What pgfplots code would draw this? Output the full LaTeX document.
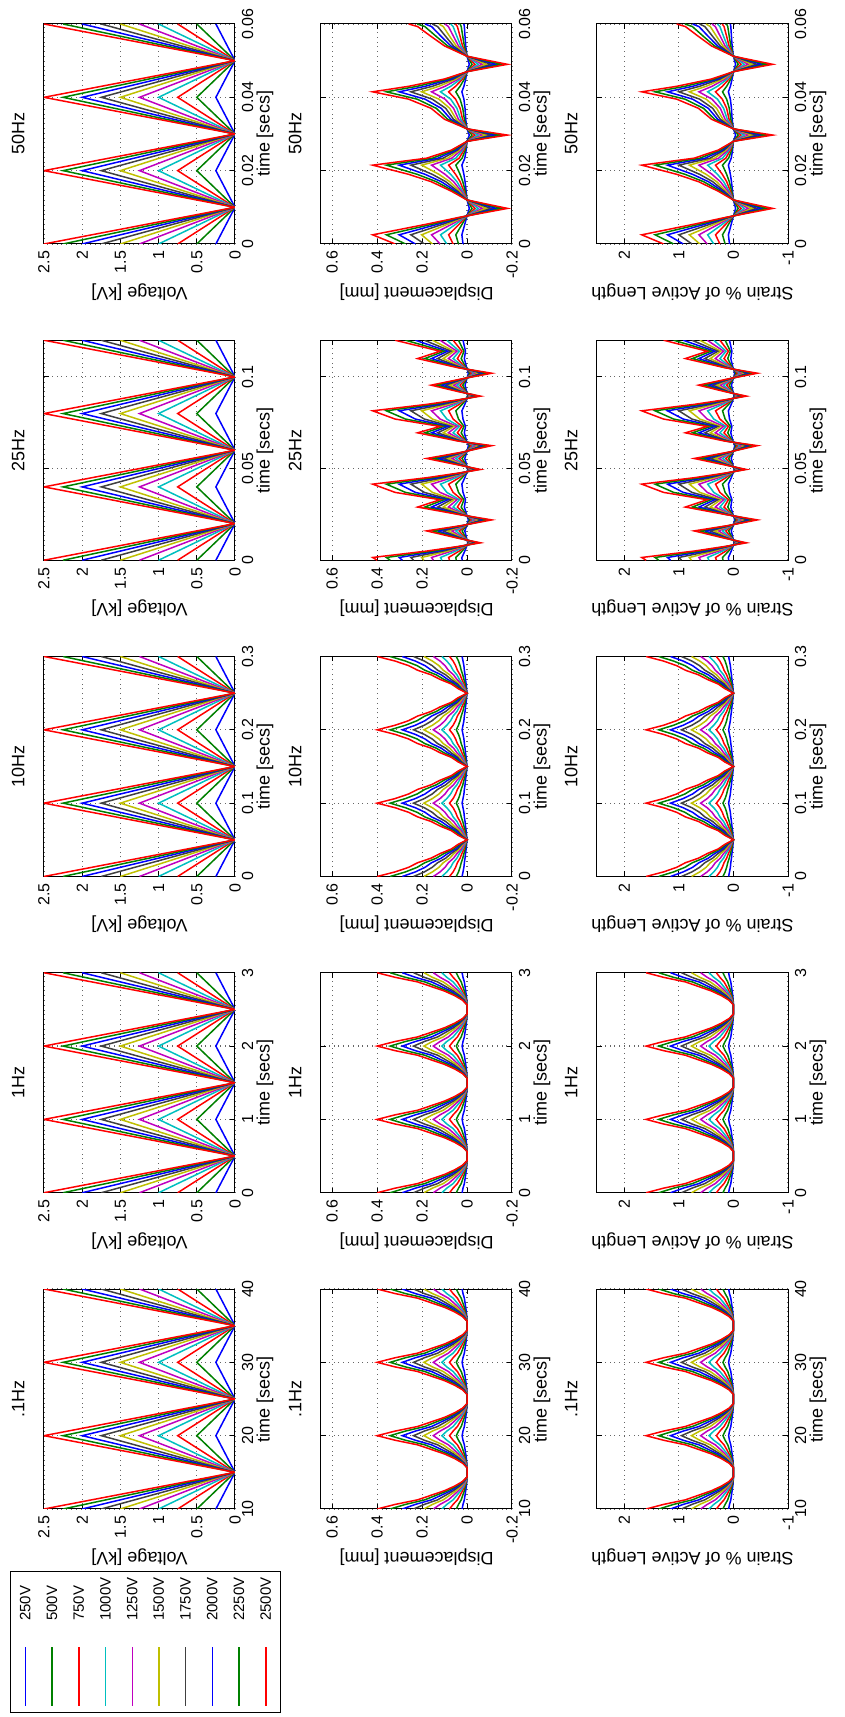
\documentclass[border=0pt]{standalone}
\usepackage{pgfplots}
\pgfplotsset{compat=1.18}
\usepackage{pgfplotstable}
\usepackage{fontspec}
\setmainfont{Liberation Sans}

\definecolor{m1}{rgb}{0,0,1}
\definecolor{m2}{rgb}{0,0.5,0}
\definecolor{m3}{rgb}{1,0,0}
\definecolor{m4}{rgb}{0,0.75,0.75}
\definecolor{m5}{rgb}{0.75,0,0.75}
\definecolor{m6}{rgb}{0.75,0.75,0}
\definecolor{m7}{rgb}{0.25,0.25,0.25}
\pgfplotscreateplotcyclelist{mat}{color=m1\\color=m2\\color=m3\\color=m4\\color=m5\\color=m6\\color=m7\\color=m1\\color=m2\\color=m3\\}

\pgfplotstableread{
ta tb tc td te v1 v2 v3 v4 v5 v6 v7 v8 v9 v10
10 0 0 0 0 0.25 0.5 0.75 1 1.25 1.5 1.75 2 2.25 2.5
15 0.5 0.05 0.02 0.01 0 0 0 0 0 0 0 0 0 0
20 1 0.1 0.04 0.02 0.25 0.5 0.75 1 1.25 1.5 1.75 2 2.25 2.5
25 1.5 0.15 0.06 0.03 0 0 0 0 0 0 0 0 0 0
30 2 0.2 0.08 0.04 0.25 0.5 0.75 1 1.25 1.5 1.75 2 2.25 2.5
35 2.5 0.25 0.1 0.05 0 0 0 0 0 0 0 0 0 0
40 3 0.3 0.12 0.06 0.25 0.5 0.75 1 1.25 1.5 1.75 2 2.25 2.5
}\voltT

\pgfplotstableread{
ta tb d1 d2 d3 d4 d5 d6 d7 d8 d9 d10 s1 s2 s3 s4 s5 s6 s7 s8 s9 s10
10 0 0.022 0.048 0.078 0.112 0.150 0.192 0.238 0.288 0.342 0.400 0.088 0.192 0.312 0.448 0.600 0.768 0.952 1.152 1.368 1.600
10.625 0.0625 0.018 0.038 0.062 0.090 0.120 0.154 0.190 0.230 0.274 0.320 0.072 0.152 0.248 0.360 0.480 0.616 0.760 0.920 1.096 1.280
11.25 0.125 0.012 0.026 0.043 0.062 0.083 0.106 0.131 0.158 0.188 0.220 0.048 0.104 0.172 0.248 0.332 0.424 0.524 0.632 0.752 0.880
11.875 0.1875 0.009 0.019 0.031 0.045 0.060 0.077 0.095 0.115 0.137 0.160 0.036 0.076 0.124 0.180 0.240 0.308 0.380 0.460 0.548 0.640
12.5 0.25 0.006 0.012 0.020 0.028 0.038 0.048 0.060 0.072 0.086 0.100 0.024 0.048 0.080 0.112 0.152 0.192 0.240 0.288 0.344 0.400
13.125 0.3125 0.003 0.007 0.011 0.015 0.021 0.026 0.033 0.040 0.047 0.055 0.012 0.028 0.044 0.060 0.084 0.104 0.132 0.160 0.188 0.220
13.75 0.375 0.001 0.002 0.004 0.006 0.008 0.010 0.012 0.014 0.017 0.020 0.004 0.008 0.016 0.024 0.032 0.040 0.048 0.056 0.068 0.080
14.375 0.4375 0 0 0 0 0 0 0 0 0 0 0 0 0 0 0 0 0 0 0 0
15.625 0.5625 0 0 0 0 0 0 0 0 0 0 0 0 0 0 0 0 0 0 0 0
16.25 0.625 0.001 0.002 0.004 0.006 0.008 0.010 0.012 0.014 0.017 0.020 0.004 0.008 0.016 0.024 0.032 0.040 0.048 0.056 0.068 0.080
16.875 0.6875 0.003 0.007 0.011 0.015 0.021 0.026 0.033 0.040 0.047 0.055 0.012 0.028 0.044 0.060 0.084 0.104 0.132 0.160 0.188 0.220
17.5 0.75 0.006 0.012 0.020 0.028 0.038 0.048 0.060 0.072 0.086 0.100 0.024 0.048 0.080 0.112 0.152 0.192 0.240 0.288 0.344 0.400
18.125 0.8125 0.009 0.019 0.031 0.045 0.060 0.077 0.095 0.115 0.137 0.160 0.036 0.076 0.124 0.180 0.240 0.308 0.380 0.460 0.548 0.640
18.75 0.875 0.012 0.026 0.043 0.062 0.083 0.106 0.131 0.158 0.188 0.220 0.048 0.104 0.172 0.248 0.332 0.424 0.524 0.632 0.752 0.880
19.375 0.9375 0.018 0.038 0.062 0.090 0.120 0.154 0.190 0.230 0.274 0.320 0.072 0.152 0.248 0.360 0.480 0.616 0.760 0.920 1.096 1.280
20 1 0.022 0.048 0.078 0.112 0.150 0.192 0.238 0.288 0.342 0.400 0.088 0.192 0.312 0.448 0.600 0.768 0.952 1.152 1.368 1.600
20.625 1.0625 0.018 0.038 0.062 0.090 0.120 0.154 0.190 0.230 0.274 0.320 0.072 0.152 0.248 0.360 0.480 0.616 0.760 0.920 1.096 1.280
21.25 1.125 0.012 0.026 0.043 0.062 0.083 0.106 0.131 0.158 0.188 0.220 0.048 0.104 0.172 0.248 0.332 0.424 0.524 0.632 0.752 0.880
21.875 1.1875 0.009 0.019 0.031 0.045 0.060 0.077 0.095 0.115 0.137 0.160 0.036 0.076 0.124 0.180 0.240 0.308 0.380 0.460 0.548 0.640
22.5 1.25 0.006 0.012 0.020 0.028 0.038 0.048 0.060 0.072 0.086 0.100 0.024 0.048 0.080 0.112 0.152 0.192 0.240 0.288 0.344 0.400
23.125 1.3125 0.003 0.007 0.011 0.015 0.021 0.026 0.033 0.040 0.047 0.055 0.012 0.028 0.044 0.060 0.084 0.104 0.132 0.160 0.188 0.220
23.75 1.375 0.001 0.002 0.004 0.006 0.008 0.010 0.012 0.014 0.017 0.020 0.004 0.008 0.016 0.024 0.032 0.040 0.048 0.056 0.068 0.080
24.375 1.4375 0 0 0 0 0 0 0 0 0 0 0 0 0 0 0 0 0 0 0 0
25.625 1.5625 0 0 0 0 0 0 0 0 0 0 0 0 0 0 0 0 0 0 0 0
26.25 1.625 0.001 0.002 0.004 0.006 0.008 0.010 0.012 0.014 0.017 0.020 0.004 0.008 0.016 0.024 0.032 0.040 0.048 0.056 0.068 0.080
26.875 1.6875 0.003 0.007 0.011 0.015 0.021 0.026 0.033 0.040 0.047 0.055 0.012 0.028 0.044 0.060 0.084 0.104 0.132 0.160 0.188 0.220
27.5 1.75 0.006 0.012 0.020 0.028 0.038 0.048 0.060 0.072 0.086 0.100 0.024 0.048 0.080 0.112 0.152 0.192 0.240 0.288 0.344 0.400
28.125 1.8125 0.009 0.019 0.031 0.045 0.060 0.077 0.095 0.115 0.137 0.160 0.036 0.076 0.124 0.180 0.240 0.308 0.380 0.460 0.548 0.640
28.75 1.875 0.012 0.026 0.043 0.062 0.083 0.106 0.131 0.158 0.188 0.220 0.048 0.104 0.172 0.248 0.332 0.424 0.524 0.632 0.752 0.880
29.375 1.9375 0.018 0.038 0.062 0.090 0.120 0.154 0.190 0.230 0.274 0.320 0.072 0.152 0.248 0.360 0.480 0.616 0.760 0.920 1.096 1.280
30 2 0.022 0.048 0.078 0.112 0.150 0.192 0.238 0.288 0.342 0.400 0.088 0.192 0.312 0.448 0.600 0.768 0.952 1.152 1.368 1.600
30.625 2.0625 0.018 0.038 0.062 0.090 0.120 0.154 0.190 0.230 0.274 0.320 0.072 0.152 0.248 0.360 0.480 0.616 0.760 0.920 1.096 1.280
31.25 2.125 0.012 0.026 0.043 0.062 0.083 0.106 0.131 0.158 0.188 0.220 0.048 0.104 0.172 0.248 0.332 0.424 0.524 0.632 0.752 0.880
31.875 2.1875 0.009 0.019 0.031 0.045 0.060 0.077 0.095 0.115 0.137 0.160 0.036 0.076 0.124 0.180 0.240 0.308 0.380 0.460 0.548 0.640
32.5 2.25 0.006 0.012 0.020 0.028 0.038 0.048 0.060 0.072 0.086 0.100 0.024 0.048 0.080 0.112 0.152 0.192 0.240 0.288 0.344 0.400
33.125 2.3125 0.003 0.007 0.011 0.015 0.021 0.026 0.033 0.040 0.047 0.055 0.012 0.028 0.044 0.060 0.084 0.104 0.132 0.160 0.188 0.220
33.75 2.375 0.001 0.002 0.004 0.006 0.008 0.010 0.012 0.014 0.017 0.020 0.004 0.008 0.016 0.024 0.032 0.040 0.048 0.056 0.068 0.080
34.375 2.4375 0 0 0 0 0 0 0 0 0 0 0 0 0 0 0 0 0 0 0 0
35.625 2.5625 0 0 0 0 0 0 0 0 0 0 0 0 0 0 0 0 0 0 0 0
36.25 2.625 0.001 0.002 0.004 0.006 0.008 0.010 0.012 0.014 0.017 0.020 0.004 0.008 0.016 0.024 0.032 0.040 0.048 0.056 0.068 0.080
36.875 2.6875 0.003 0.007 0.011 0.015 0.021 0.026 0.033 0.040 0.047 0.055 0.012 0.028 0.044 0.060 0.084 0.104 0.132 0.160 0.188 0.220
37.5 2.75 0.006 0.012 0.020 0.028 0.038 0.048 0.060 0.072 0.086 0.100 0.024 0.048 0.080 0.112 0.152 0.192 0.240 0.288 0.344 0.400
38.125 2.8125 0.009 0.019 0.031 0.045 0.060 0.077 0.095 0.115 0.137 0.160 0.036 0.076 0.124 0.180 0.240 0.308 0.380 0.460 0.548 0.640
38.75 2.875 0.012 0.026 0.043 0.062 0.083 0.106 0.131 0.158 0.188 0.220 0.048 0.104 0.172 0.248 0.332 0.424 0.524 0.632 0.752 0.880
39.375 2.9375 0.018 0.038 0.062 0.090 0.120 0.154 0.190 0.230 0.274 0.320 0.072 0.152 0.248 0.360 0.480 0.616 0.760 0.920 1.096 1.280
40 3 0.022 0.048 0.078 0.112 0.150 0.192 0.238 0.288 0.342 0.400 0.088 0.192 0.312 0.448 0.600 0.768 0.952 1.152 1.368 1.600
}\slowT

\pgfplotstableread{
t d1 d2 d3 d4 d5 d6 d7 d8 d9 d10 s1 s2 s3 s4 s5 s6 s7 s8 s9 s10
0 0.022 0.048 0.078 0.112 0.150 0.192 0.238 0.288 0.342 0.400 0.088 0.192 0.312 0.448 0.600 0.768 0.952 1.152 1.368 1.600
0.00625 0.018 0.038 0.062 0.090 0.120 0.154 0.190 0.230 0.274 0.320 0.072 0.152 0.248 0.360 0.480 0.616 0.760 0.920 1.096 1.280
0.0125 0.014 0.031 0.051 0.073 0.098 0.125 0.155 0.187 0.222 0.260 0.056 0.124 0.204 0.292 0.392 0.500 0.620 0.748 0.888 1.040
0.01875 0.012 0.026 0.043 0.062 0.083 0.106 0.131 0.158 0.188 0.220 0.048 0.104 0.172 0.248 0.332 0.424 0.524 0.632 0.752 0.880
0.025 0.009 0.019 0.031 0.045 0.060 0.077 0.095 0.115 0.137 0.160 0.036 0.076 0.124 0.180 0.240 0.308 0.380 0.460 0.548 0.640
0.03125 0.007 0.014 0.023 0.034 0.045 0.058 0.071 0.086 0.103 0.120 0.028 0.056 0.092 0.136 0.180 0.232 0.284 0.344 0.412 0.480
0.0375 0.004 0.008 0.014 0.020 0.026 0.034 0.042 0.050 0.060 0.070 0.016 0.032 0.056 0.080 0.104 0.136 0.168 0.200 0.240 0.280
0.04375 0.002 0.005 0.008 0.011 0.015 0.019 0.024 0.029 0.034 0.040 0.008 0.020 0.032 0.044 0.060 0.076 0.096 0.116 0.136 0.160
0.05 0 0 0 0 0 0 0 0 0 0 0 0 0 0 0 0 0 0 0 0
0.05625 0.002 0.005 0.008 0.011 0.015 0.019 0.024 0.029 0.034 0.040 0.008 0.020 0.032 0.044 0.060 0.076 0.096 0.116 0.136 0.160
0.0625 0.004 0.008 0.014 0.020 0.026 0.034 0.042 0.050 0.060 0.070 0.016 0.032 0.056 0.080 0.104 0.136 0.168 0.200 0.240 0.280
0.06875 0.007 0.014 0.023 0.034 0.045 0.058 0.071 0.086 0.103 0.120 0.028 0.056 0.092 0.136 0.180 0.232 0.284 0.344 0.412 0.480
0.075 0.009 0.019 0.031 0.045 0.060 0.077 0.095 0.115 0.137 0.160 0.036 0.076 0.124 0.180 0.240 0.308 0.380 0.460 0.548 0.640
0.08125 0.012 0.026 0.043 0.062 0.083 0.106 0.131 0.158 0.188 0.220 0.048 0.104 0.172 0.248 0.332 0.424 0.524 0.632 0.752 0.880
0.0875 0.014 0.031 0.051 0.073 0.098 0.125 0.155 0.187 0.222 0.260 0.056 0.124 0.204 0.292 0.392 0.500 0.620 0.748 0.888 1.040
0.09375 0.018 0.038 0.062 0.090 0.120 0.154 0.190 0.230 0.274 0.320 0.072 0.152 0.248 0.360 0.480 0.616 0.760 0.920 1.096 1.280
0.1 0.022 0.048 0.078 0.112 0.150 0.192 0.238 0.288 0.342 0.400 0.088 0.192 0.312 0.448 0.600 0.768 0.952 1.152 1.368 1.600
0.10625 0.018 0.038 0.062 0.090 0.120 0.154 0.190 0.230 0.274 0.320 0.072 0.152 0.248 0.360 0.480 0.616 0.760 0.920 1.096 1.280
0.1125 0.014 0.031 0.051 0.073 0.098 0.125 0.155 0.187 0.222 0.260 0.056 0.124 0.204 0.292 0.392 0.500 0.620 0.748 0.888 1.040
0.11875 0.012 0.026 0.043 0.062 0.083 0.106 0.131 0.158 0.188 0.220 0.048 0.104 0.172 0.248 0.332 0.424 0.524 0.632 0.752 0.880
0.125 0.009 0.019 0.031 0.045 0.060 0.077 0.095 0.115 0.137 0.160 0.036 0.076 0.124 0.180 0.240 0.308 0.380 0.460 0.548 0.640
0.13125 0.007 0.014 0.023 0.034 0.045 0.058 0.071 0.086 0.103 0.120 0.028 0.056 0.092 0.136 0.180 0.232 0.284 0.344 0.412 0.480
0.1375 0.004 0.008 0.014 0.020 0.026 0.034 0.042 0.050 0.060 0.070 0.016 0.032 0.056 0.080 0.104 0.136 0.168 0.200 0.240 0.280
0.14375 0.002 0.005 0.008 0.011 0.015 0.019 0.024 0.029 0.034 0.040 0.008 0.020 0.032 0.044 0.060 0.076 0.096 0.116 0.136 0.160
0.15 0 0 0 0 0 0 0 0 0 0 0 0 0 0 0 0 0 0 0 0
0.15625 0.002 0.005 0.008 0.011 0.015 0.019 0.024 0.029 0.034 0.040 0.008 0.020 0.032 0.044 0.060 0.076 0.096 0.116 0.136 0.160
0.1625 0.004 0.008 0.014 0.020 0.026 0.034 0.042 0.050 0.060 0.070 0.016 0.032 0.056 0.080 0.104 0.136 0.168 0.200 0.240 0.280
0.16875 0.007 0.014 0.023 0.034 0.045 0.058 0.071 0.086 0.103 0.120 0.028 0.056 0.092 0.136 0.180 0.232 0.284 0.344 0.412 0.480
0.175 0.009 0.019 0.031 0.045 0.060 0.077 0.095 0.115 0.137 0.160 0.036 0.076 0.124 0.180 0.240 0.308 0.380 0.460 0.548 0.640
0.18125 0.012 0.026 0.043 0.062 0.083 0.106 0.131 0.158 0.188 0.220 0.048 0.104 0.172 0.248 0.332 0.424 0.524 0.632 0.752 0.880
0.1875 0.014 0.031 0.051 0.073 0.098 0.125 0.155 0.187 0.222 0.260 0.056 0.124 0.204 0.292 0.392 0.500 0.620 0.748 0.888 1.040
0.19375 0.018 0.038 0.062 0.090 0.120 0.154 0.190 0.230 0.274 0.320 0.072 0.152 0.248 0.360 0.480 0.616 0.760 0.920 1.096 1.280
0.2 0.022 0.048 0.078 0.112 0.150 0.192 0.238 0.288 0.342 0.400 0.088 0.192 0.312 0.448 0.600 0.768 0.952 1.152 1.368 1.600
0.20625 0.018 0.038 0.062 0.090 0.120 0.154 0.190 0.230 0.274 0.320 0.072 0.152 0.248 0.360 0.480 0.616 0.760 0.920 1.096 1.280
0.2125 0.014 0.031 0.051 0.073 0.098 0.125 0.155 0.187 0.222 0.260 0.056 0.124 0.204 0.292 0.392 0.500 0.620 0.748 0.888 1.040
0.21875 0.012 0.026 0.043 0.062 0.083 0.106 0.131 0.158 0.188 0.220 0.048 0.104 0.172 0.248 0.332 0.424 0.524 0.632 0.752 0.880
0.225 0.009 0.019 0.031 0.045 0.060 0.077 0.095 0.115 0.137 0.160 0.036 0.076 0.124 0.180 0.240 0.308 0.380 0.460 0.548 0.640
0.23125 0.007 0.014 0.023 0.034 0.045 0.058 0.071 0.086 0.103 0.120 0.028 0.056 0.092 0.136 0.180 0.232 0.284 0.344 0.412 0.480
0.2375 0.004 0.008 0.014 0.020 0.026 0.034 0.042 0.050 0.060 0.070 0.016 0.032 0.056 0.080 0.104 0.136 0.168 0.200 0.240 0.280
0.24375 0.002 0.005 0.008 0.011 0.015 0.019 0.024 0.029 0.034 0.040 0.008 0.020 0.032 0.044 0.060 0.076 0.096 0.116 0.136 0.160
0.25 0 0 0 0 0 0 0 0 0 0 0 0 0 0 0 0 0 0 0 0
0.25625 0.002 0.005 0.008 0.011 0.015 0.019 0.024 0.029 0.034 0.040 0.008 0.020 0.032 0.044 0.060 0.076 0.096 0.116 0.136 0.160
0.2625 0.004 0.008 0.014 0.020 0.026 0.034 0.042 0.050 0.060 0.070 0.016 0.032 0.056 0.080 0.104 0.136 0.168 0.200 0.240 0.280
0.26875 0.007 0.014 0.023 0.034 0.045 0.058 0.071 0.086 0.103 0.120 0.028 0.056 0.092 0.136 0.180 0.232 0.284 0.344 0.412 0.480
0.275 0.009 0.019 0.031 0.045 0.060 0.077 0.095 0.115 0.137 0.160 0.036 0.076 0.124 0.180 0.240 0.308 0.380 0.460 0.548 0.640
0.28125 0.012 0.026 0.043 0.062 0.083 0.106 0.131 0.158 0.188 0.220 0.048 0.104 0.172 0.248 0.332 0.424 0.524 0.632 0.752 0.880
0.2875 0.014 0.031 0.051 0.073 0.098 0.125 0.155 0.187 0.222 0.260 0.056 0.124 0.204 0.292 0.392 0.500 0.620 0.748 0.888 1.040
0.29375 0.018 0.038 0.062 0.090 0.120 0.154 0.190 0.230 0.274 0.320 0.072 0.152 0.248 0.360 0.480 0.616 0.760 0.920 1.096 1.280
0.3 0.022 0.048 0.078 0.112 0.150 0.192 0.238 0.288 0.342 0.400 0.088 0.192 0.312 0.448 0.600 0.768 0.952 1.152 1.368 1.600
}\tenT

\pgfplotstableread{
t d1 d2 d3 d4 d5 d6 d7 d8 d9 d10 s1 s2 s3 s4 s5 s6 s7 s8 s9 s10
0 0.022 0.048 0.078 0.112 0.150 0.192 0.238 0.288 0.342 0.400 0.088 0.192 0.312 0.448 0.600 0.768 0.952 1.152 1.368 1.600
0.0015 0.023 0.050 0.082 0.118 0.158 0.202 0.250 0.302 0.359 0.420 0.092 0.200 0.328 0.472 0.632 0.808 1.000 1.208 1.436 1.680
0.005 0.010 0.022 0.035 0.050 0.068 0.086 0.107 0.130 0.154 0.180 0.040 0.088 0.140 0.200 0.272 0.344 0.428 0.520 0.616 0.720
0.0075 0.002 0.005 0.008 0.011 0.015 0.019 0.024 0.029 0.034 0.040 0.008 0.020 0.032 0.044 0.060 0.076 0.096 0.116 0.136 0.160
0.0095 -0.003 -0.007 -0.012 -0.017 -0.023 -0.029 -0.036 -0.043 -0.051 -0.060 -0.012 -0.028 -0.048 -0.068 -0.092 -0.116 -0.144 -0.172 -0.204 -0.240
0.012 0.002 0.005 0.008 0.011 0.015 0.019 0.024 0.029 0.034 0.040 0.008 0.020 0.032 0.044 0.060 0.076 0.096 0.116 0.136 0.160
0.016 0.010 0.022 0.035 0.050 0.068 0.086 0.107 0.130 0.154 0.180 0.040 0.088 0.140 0.200 0.272 0.344 0.428 0.520 0.616 0.720
0.019 0.001 0.002 0.004 0.006 0.008 0.010 0.012 0.014 0.017 0.020 0.004 0.008 0.016 0.024 0.032 0.040 0.048 0.056 0.068 0.080
0.022 -0.006 -0.013 -0.021 -0.031 -0.041 -0.053 -0.065 -0.079 -0.094 -0.110 -0.024 -0.052 -0.084 -0.124 -0.164 -0.212 -0.260 -0.316 -0.376 -0.440
0.025 0.002 0.005 0.008 0.011 0.015 0.019 0.024 0.029 0.034 0.040 0.008 0.020 0.032 0.044 0.060 0.076 0.096 0.116 0.136 0.160
0.029 0.012 0.026 0.043 0.062 0.083 0.106 0.131 0.158 0.188 0.220 0.048 0.104 0.172 0.248 0.332 0.424 0.524 0.632 0.752 0.880
0.033 0.007 0.014 0.023 0.034 0.045 0.058 0.071 0.086 0.103 0.120 0.028 0.056 0.092 0.136 0.180 0.232 0.284 0.344 0.412 0.480
0.037 0.018 0.038 0.062 0.090 0.120 0.154 0.190 0.230 0.274 0.320 0.072 0.152 0.248 0.360 0.480 0.616 0.760 0.920 1.096 1.280
0.0415 0.023 0.050 0.082 0.118 0.158 0.202 0.250 0.302 0.359 0.420 0.092 0.200 0.328 0.472 0.632 0.808 1.000 1.208 1.436 1.680
0.045 0.010 0.022 0.035 0.050 0.068 0.086 0.107 0.130 0.154 0.180 0.040 0.088 0.140 0.200 0.272 0.344 0.428 0.520 0.616 0.720
0.0475 0.002 0.005 0.008 0.011 0.015 0.019 0.024 0.029 0.034 0.040 0.008 0.020 0.032 0.044 0.060 0.076 0.096 0.116 0.136 0.160
0.0495 -0.003 -0.007 -0.012 -0.017 -0.023 -0.029 -0.036 -0.043 -0.051 -0.060 -0.012 -0.028 -0.048 -0.068 -0.092 -0.116 -0.144 -0.172 -0.204 -0.240
0.052 0.002 0.005 0.008 0.011 0.015 0.019 0.024 0.029 0.034 0.040 0.008 0.020 0.032 0.044 0.060 0.076 0.096 0.116 0.136 0.160
0.0555 0.010 0.022 0.035 0.050 0.068 0.086 0.107 0.130 0.154 0.180 0.040 0.088 0.140 0.200 0.272 0.344 0.428 0.520 0.616 0.720
0.059 0.001 0.002 0.004 0.006 0.008 0.010 0.012 0.014 0.017 0.020 0.004 0.008 0.016 0.024 0.032 0.040 0.048 0.056 0.068 0.080
0.0625 -0.006 -0.013 -0.021 -0.031 -0.041 -0.053 -0.065 -0.079 -0.094 -0.110 -0.024 -0.052 -0.084 -0.124 -0.164 -0.212 -0.260 -0.316 -0.376 -0.440
0.065 0.002 0.005 0.008 0.011 0.015 0.019 0.024 0.029 0.034 0.040 0.008 0.020 0.032 0.044 0.060 0.076 0.096 0.116 0.136 0.160
0.0695 0.012 0.026 0.043 0.062 0.083 0.106 0.131 0.158 0.188 0.220 0.048 0.104 0.172 0.248 0.332 0.424 0.524 0.632 0.752 0.880
0.073 0.007 0.014 0.023 0.034 0.045 0.058 0.071 0.086 0.103 0.120 0.028 0.056 0.092 0.136 0.180 0.232 0.284 0.344 0.412 0.480
0.077 0.018 0.038 0.062 0.090 0.120 0.154 0.190 0.230 0.274 0.320 0.072 0.152 0.248 0.360 0.480 0.616 0.760 0.920 1.096 1.280
0.0815 0.023 0.050 0.082 0.118 0.158 0.202 0.250 0.302 0.359 0.420 0.092 0.200 0.328 0.472 0.632 0.808 1.000 1.208 1.436 1.680
0.085 0.010 0.022 0.035 0.050 0.068 0.086 0.107 0.130 0.154 0.180 0.040 0.088 0.140 0.200 0.272 0.344 0.428 0.520 0.616 0.720
0.0875 0.002 0.005 0.008 0.011 0.015 0.019 0.024 0.029 0.034 0.040 0.008 0.020 0.032 0.044 0.060 0.076 0.096 0.116 0.136 0.160
0.0895 -0.003 -0.007 -0.012 -0.017 -0.023 -0.029 -0.036 -0.043 -0.051 -0.060 -0.012 -0.028 -0.048 -0.068 -0.092 -0.116 -0.144 -0.172 -0.204 -0.240
0.092 0.002 0.005 0.008 0.011 0.015 0.019 0.024 0.029 0.034 0.040 0.008 0.020 0.032 0.044 0.060 0.076 0.096 0.116 0.136 0.160
0.0955 0.009 0.019 0.031 0.045 0.060 0.077 0.095 0.115 0.137 0.160 0.036 0.076 0.124 0.180 0.240 0.308 0.380 0.460 0.548 0.640
0.099 0.001 0.002 0.004 0.006 0.008 0.010 0.012 0.014 0.017 0.020 0.004 0.008 0.016 0.024 0.032 0.040 0.048 0.056 0.068 0.080
0.102 -0.006 -0.013 -0.021 -0.031 -0.041 -0.053 -0.065 -0.079 -0.094 -0.110 -0.024 -0.052 -0.084 -0.124 -0.164 -0.212 -0.260 -0.316 -0.376 -0.440
0.105 0.002 0.005 0.008 0.011 0.015 0.019 0.024 0.029 0.034 0.040 0.008 0.020 0.032 0.044 0.060 0.076 0.096 0.116 0.136 0.160
0.11 0.012 0.026 0.043 0.062 0.083 0.106 0.131 0.158 0.188 0.220 0.048 0.104 0.172 0.248 0.332 0.424 0.524 0.632 0.752 0.880
0.114 0.007 0.014 0.023 0.034 0.045 0.058 0.071 0.086 0.103 0.120 0.028 0.056 0.092 0.136 0.180 0.232 0.284 0.344 0.412 0.480
0.12 0.018 0.038 0.062 0.090 0.120 0.154 0.190 0.230 0.274 0.320 0.072 0.152 0.248 0.360 0.480 0.616 0.760 0.920 1.096 1.280
}\twfT

\pgfplotstableread{
t d1 d2 d3 d4 d5 d6 d7 d8 d9 d10 s1 s2 s3 s4 s5 s6 s7 s8 s9 s10
0 0.018 0.038 0.062 0.090 0.120 0.154 0.190 0.230 0.274 0.320 0.072 0.152 0.248 0.360 0.480 0.616 0.760 0.920 1.096 1.280
0.0025 0.023 0.050 0.082 0.118 0.158 0.202 0.250 0.302 0.359 0.420 0.092 0.200 0.328 0.472 0.632 0.808 1.000 1.208 1.436 1.680
0.0054 0.010 0.022 0.035 0.050 0.068 0.086 0.107 0.130 0.154 0.180 0.040 0.088 0.140 0.200 0.272 0.344 0.428 0.520 0.616 0.720
0.0072 0.002 0.005 0.008 0.011 0.015 0.019 0.024 0.029 0.034 0.040 0.008 0.020 0.032 0.044 0.060 0.076 0.096 0.116 0.136 0.160
0.0097 -0.010 -0.022 -0.035 -0.050 -0.068 -0.086 -0.107 -0.130 -0.154 -0.180 -0.040 -0.088 -0.140 -0.200 -0.272 -0.344 -0.428 -0.520 -0.616 -0.720
0.012 0 0 0 0 0 0 0 0 0 0 0 0 0 0 0 0 0 0 0 0
0.0144 0.004 0.008 0.014 0.020 0.026 0.034 0.042 0.050 0.060 0.070 0.016 0.032 0.056 0.080 0.104 0.136 0.168 0.200 0.240 0.280
0.017 0.009 0.019 0.031 0.045 0.060 0.077 0.095 0.115 0.137 0.160 0.036 0.076 0.124 0.180 0.240 0.308 0.380 0.460 0.548 0.640
0.019 0.014 0.031 0.051 0.073 0.098 0.125 0.155 0.187 0.222 0.260 0.056 0.124 0.204 0.292 0.392 0.500 0.620 0.748 0.888 1.040
0.0215 0.023 0.050 0.082 0.118 0.158 0.202 0.250 0.302 0.359 0.420 0.092 0.200 0.328 0.472 0.632 0.808 1.000 1.208 1.436 1.680
0.0234 0.010 0.022 0.035 0.050 0.068 0.086 0.107 0.130 0.154 0.180 0.040 0.088 0.140 0.200 0.272 0.344 0.428 0.520 0.616 0.720
0.0256 0.004 0.008 0.014 0.020 0.026 0.034 0.042 0.050 0.060 0.070 0.016 0.032 0.056 0.080 0.104 0.136 0.168 0.200 0.240 0.280
0.028 0 0 0 0 0 0 0 0 0 0 0 0 0 0 0 0 0 0 0 0
0.0297 -0.010 -0.022 -0.035 -0.050 -0.068 -0.086 -0.107 -0.130 -0.154 -0.180 -0.040 -0.088 -0.140 -0.200 -0.272 -0.344 -0.428 -0.520 -0.616 -0.720
0.0314 0 0 0 0 0 0 0 0 0 0 0 0 0 0 0 0 0 0 0 0
0.034 0.006 0.012 0.020 0.028 0.038 0.048 0.060 0.072 0.086 0.100 0.024 0.048 0.080 0.112 0.152 0.192 0.240 0.288 0.344 0.400
0.037 0.009 0.019 0.031 0.045 0.060 0.077 0.095 0.115 0.137 0.160 0.036 0.076 0.124 0.180 0.240 0.308 0.380 0.460 0.548 0.640
0.0395 0.014 0.031 0.051 0.073 0.098 0.125 0.155 0.187 0.222 0.260 0.056 0.124 0.204 0.292 0.392 0.500 0.620 0.748 0.888 1.040
0.0415 0.023 0.050 0.082 0.118 0.158 0.202 0.250 0.302 0.359 0.420 0.092 0.200 0.328 0.472 0.632 0.808 1.000 1.208 1.436 1.680
0.043 0.014 0.031 0.051 0.073 0.098 0.125 0.155 0.187 0.222 0.260 0.056 0.124 0.204 0.292 0.392 0.500 0.620 0.748 0.888 1.040
0.045 0.006 0.012 0.020 0.028 0.038 0.048 0.060 0.072 0.086 0.100 0.024 0.048 0.080 0.112 0.152 0.192 0.240 0.288 0.344 0.400
0.047 0 0 0 0 0 0 0 0 0 0 0 0 0 0 0 0 0 0 0 0
0.049 -0.010 -0.022 -0.035 -0.050 -0.068 -0.086 -0.107 -0.130 -0.154 -0.180 -0.040 -0.088 -0.140 -0.200 -0.272 -0.344 -0.428 -0.520 -0.616 -0.720
0.0512 0 0 0 0 0 0 0 0 0 0 0 0 0 0 0 0 0 0 0 0
0.054 0.006 0.012 0.020 0.028 0.038 0.048 0.060 0.072 0.086 0.100 0.024 0.048 0.080 0.112 0.152 0.192 0.240 0.288 0.344 0.400
0.0566 0.009 0.019 0.031 0.045 0.060 0.077 0.095 0.115 0.137 0.160 0.036 0.076 0.124 0.180 0.240 0.308 0.380 0.460 0.548 0.640
0.0593 0.012 0.026 0.043 0.062 0.083 0.106 0.131 0.158 0.188 0.220 0.048 0.104 0.172 0.248 0.332 0.424 0.524 0.632 0.752 0.880
0.06 0.014 0.031 0.051 0.073 0.098 0.125 0.155 0.187 0.222 0.260 0.056 0.124 0.204 0.292 0.392 0.500 0.620 0.748 0.888 1.040
}\fifT

\pgfplotsset{
 base/.style={scale only axis, width=110pt, height=95.5pt, anchor=south west,
   scaled x ticks=false, scaled y ticks=false,
   axis line style={line width=0.5pt, black},
   tick align=inside, tick pos=both, major tick length=2.5pt,
   tick style={line width=0.5pt, black},
   xmajorgrids, ymajorgrids, grid style={dotted, line width=0.6pt, black!60},
   cycle list name=mat,
   every axis plot/.append style={line width=0.75pt, mark=none},
   tick label style={font=\fontsize{8}{9}\selectfont},
   label style={font=\fontsize{9}{10}\selectfont},
   title style={font=\fontsize{9}{10}\selectfont, at={(0.5,1)}, anchor=base, yshift=3.8pt, inner sep=0pt},
   xlabel={time [secs]},
   xlabel style={at={(0.5,0)}, anchor=center, yshift=-15pt},
   ylabel style={at={(-0.218,0.5)}, anchor=center},
 },
 volt/.style={base, ymin=0, ymax=2.5, ytick={0,0.5,1,1.5,2,2.5}, yticklabels={0,0.5,1,1.5,2,2.5}, ylabel={Voltage [kV]}},
 disp/.style={base, ymin=-0.2, ymax=0.65, ytick={-0.2,0,0.2,0.4,0.6}, yticklabels={-0.2,0,0.2,0.4,0.6}, ylabel={Displacement [mm]}},
 strn/.style={base, ymin=-1, ymax=2.5, ytick={-1,0,1,2}, yticklabels={-1,0,1,2}, ylabel={Strain \% of Active Length}},
 c01/.style={xmin=10, xmax=40, xtick={10,20,30,40}, xticklabels={10,20,30,40}, title={.1Hz}},
 c1/.style={xmin=0, xmax=3, xtick={0,1,2,3}, xticklabels={0,1,2,3}, title={1Hz}},
 c10/.style={xmin=0, xmax=0.3, xtick={0,0.1,0.2,0.3}, xticklabels={0,0.1,0.2,0.3}, title={10Hz}},
 c25/.style={xmin=0, xmax=0.12, xtick={0,0.05,0.1}, xticklabels={0,0.05,0.1}, title={25Hz}},
 c50/.style={xmin=0, xmax=0.06, xtick={0,0.02,0.04,0.06}, xticklabels={0,0.02,0.04,0.06}, title={50Hz}},
}

\begin{document}
\begin{tikzpicture}
\useasboundingbox (-422.5pt,0pt) rectangle (0pt,858.5pt);
\begin{scope}[rotate=90, transform shape]
% ---------------- voltage row
\begin{axis}[volt, c01, at={(104pt,305pt)},
  legend entries={250V,500V,750V,1000V,1250V,1500V,1750V,2000V,2250V,2500V},
  legend image code/.code={\draw[#1] (0pt,0pt) -- (29.5pt,0pt);},
  legend style={at={(-0.927,1.178)}, anchor=north west, draw=black, line width=0.5pt, fill=white,
    font=\fontsize{7.5}{8}\selectfont, inner xsep=3pt, inner ysep=4pt, row sep=6.35pt, column sep=12.5pt,
    nodes={inner sep=0pt, text height=6pt, text depth=1pt}, cells={anchor=west}}]
\pgfplotsinvokeforeach{1,...,10}{\addplot table[x=ta, y=v#1]{\voltT};}
\end{axis}
\begin{axis}[volt, c1, at={(262.125pt,305pt)}]
\pgfplotsinvokeforeach{1,...,10}{\addplot table[x=tb, y=v#1]{\voltT};}
\end{axis}
\begin{axis}[volt, c10, at={(420.25pt,305pt)}]
\pgfplotsinvokeforeach{1,...,10}{\addplot table[x=tc, y=v#1]{\voltT};}
\end{axis}
\begin{axis}[volt, c25, at={(578.375pt,305pt)}]
\pgfplotsinvokeforeach{1,...,10}{\addplot table[x=td, y=v#1]{\voltT};}
\end{axis}
\begin{axis}[volt, c50, at={(736.5pt,305pt)}]
\pgfplotsinvokeforeach{1,...,10}{\addplot table[x=te, y=v#1]{\voltT};}
\end{axis}
% ---------------- displacement row
\begin{axis}[disp, c01, at={(104pt,166.5pt)}]
\pgfplotsinvokeforeach{1,...,10}{\addplot table[x=ta, y=d#1]{\slowT};}
\end{axis}
\begin{axis}[disp, c1, at={(262.125pt,166.5pt)}]
\pgfplotsinvokeforeach{1,...,10}{\addplot table[x=tb, y=d#1]{\slowT};}
\end{axis}
\begin{axis}[disp, c10, at={(420.25pt,166.5pt)}]
\pgfplotsinvokeforeach{1,...,10}{\addplot table[x=t, y=d#1]{\tenT};}
\end{axis}
\begin{axis}[disp, c25, at={(578.375pt,166.5pt)}]
\pgfplotsinvokeforeach{1,...,10}{\addplot table[x=t, y=d#1]{\twfT};}
\end{axis}
\begin{axis}[disp, c50, at={(736.5pt,166.5pt)}]
\pgfplotsinvokeforeach{1,...,10}{\addplot table[x=t, y=d#1]{\fifT};}
\end{axis}
% ---------------- strain row
\begin{axis}[strn, c01, at={(104pt,28.5pt)}]
\pgfplotsinvokeforeach{1,...,10}{\addplot table[x=ta, y=s#1]{\slowT};}
\end{axis}
\begin{axis}[strn, c1, at={(262.125pt,28.5pt)}]
\pgfplotsinvokeforeach{1,...,10}{\addplot table[x=tb, y=s#1]{\slowT};}
\end{axis}
\begin{axis}[strn, c10, at={(420.25pt,28.5pt)}]
\pgfplotsinvokeforeach{1,...,10}{\addplot table[x=t, y=s#1]{\tenT};}
\end{axis}
\begin{axis}[strn, c25, at={(578.375pt,28.5pt)}]
\pgfplotsinvokeforeach{1,...,10}{\addplot table[x=t, y=s#1]{\twfT};}
\end{axis}
\begin{axis}[strn, c50, at={(736.5pt,28.5pt)}]
\pgfplotsinvokeforeach{1,...,10}{\addplot table[x=t, y=s#1]{\fifT};}
\end{axis}
\end{scope}
\end{tikzpicture}
\end{document}
